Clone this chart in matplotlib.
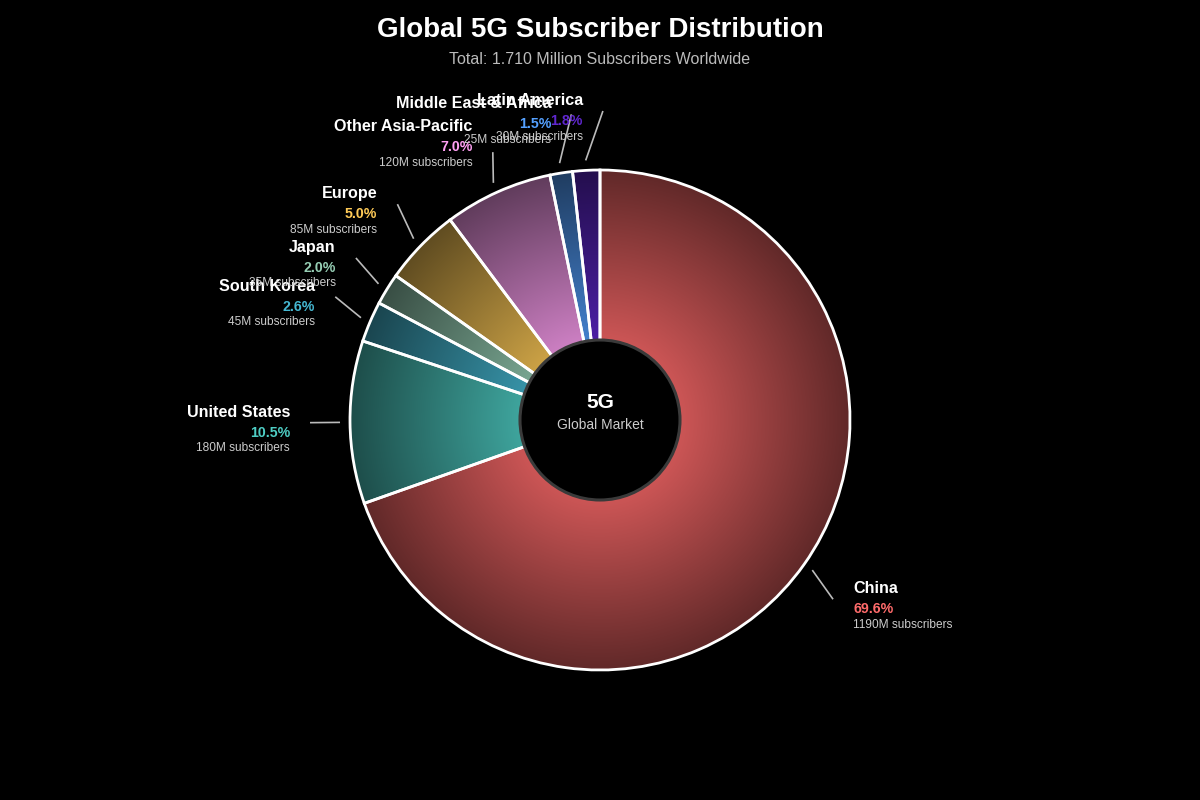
import matplotlib
matplotlib.use("Agg")
import matplotlib.pyplot as plt
import numpy as np
from matplotlib.colors import to_rgb
from matplotlib.patches import Circle

regions = ["China", "United States", "South Korea", "Japan", "Europe",
           "Other Asia-Pacific", "Middle East & Africa", "Latin America"]
subscribers = [1190, 180, 45, 35, 85, 120, 25, 30]
colors = ["#FF6B6B", "#4ECDC4", "#45B7D1", "#96CEB4", "#FECA57",
          "#FF9FF3", "#54A0FF", "#5F27CD"]
title = "Global 5G Subscriber Distribution"
subtitle = "Total: 1.710 Million Subscribers Worldwide"

# label layout tuning (leader-line end: clockwise nudge in degrees, radius factor,
# extra vertical text shift in px)
label_nudge = [2.3, 0.0, 1.8, 2.0, 2.6, 2.4, 3.6, 3.7]
label_rad = [1.176, 1.16, 1.168, 1.172, 1.184, 1.154, 1.228, 1.236]
text_shift = [0, 0, 0, 0, 0, 15, 0, 0]

plt.rcParams['font.family'] = ['Liberation Sans', 'DejaVu Sans']

fig = plt.figure(figsize=(12, 8), dpi=100, facecolor="black")
ax = fig.add_axes([0, 0, 1, 1])
ax.set_facecolor("black")
ax.axis("off")

cx, cy, R = 600, 380, 250
total = sum(subscribers)

wedges, _ = ax.pie(subscribers, center=(cx, cy), radius=R, startangle=90,
                   counterclock=False, colors=colors,
                   wedgeprops=dict(edgecolor="white", linewidth=2.0))

# radial gradient fill clipped to each wedge
n = 500
xs = np.linspace(cx - R, cx + R, n)
ys = np.linspace(cy - R, cy + R, n)
X, Y = np.meshgrid(xs, ys)
rr = np.sqrt((X - cx) ** 2 + (Y - cy) ** 2) / R
fac = np.clip(1.0 - 0.62 * rr, 0, 1)
for w, c in zip(wedges, colors):
    rgb = np.array(to_rgb(c))
    img = fac[..., None] * rgb[None, None, :]
    im = ax.imshow(img, extent=(cx - R, cx + R, cy - R, cy + R), origin="lower",
                   zorder=1.5, interpolation="bilinear")
    im.set_clip_path(w)
    w.set_facecolor("none")
    w.set_zorder(2)

ax.set_xlim(0, 1200)
ax.set_ylim(0, 800)
ax.set_aspect("equal")

# center hole
ax.add_patch(Circle((cx, cy), 80, facecolor="black", edgecolor="#3a3a3a",
                    linewidth=2.2, zorder=3))
ax.text(cx, cy + 17, "5G", color="white", fontsize=15, fontweight="bold",
        ha="center", va="center", zorder=4)
ax.text(cx, cy - 5, "Global Market", color="#cccccc", fontsize=10,
        ha="center", va="center", zorder=4)

# labels
for i, (w, name, val, c) in enumerate(zip(wedges, regions, subscribers, colors)):
    mid = (w.theta1 + w.theta2) / 2
    a0 = np.deg2rad(mid)
    a1 = np.deg2rad(mid - label_nudge[i])
    x0, y0 = cx + 1.04 * R * np.cos(a0), cy + 1.04 * R * np.sin(a0)
    x1, y1 = cx + label_rad[i] * R * np.cos(a1), cy + label_rad[i] * R * np.sin(a1)
    ax.plot([x0, x1], [y0, y1], color="#bbbbbb", linewidth=1.2, zorder=2,
            solid_capstyle="butt")
    right = np.cos(a0) > 0.05
    ha = "left" if right else "right"
    lx = x1 + (20 if right else -20)
    ly = y1 + text_shift[i]
    ax.text(lx, ly + 10.5, name, color="white", fontsize=11.6, fontweight="bold",
            ha=ha, va="center", zorder=5)
    ax.text(lx, ly - 10, f"{val / total * 100:.1f}%", color=c, fontsize=10.2,
            fontweight="bold", ha=ha, va="center", zorder=5)
    ax.text(lx, ly - 25.5, f"{val}M subscribers", color="#cccccc", fontsize=8.6,
            ha=ha, va="center", zorder=5)

ax.text(600, 770, title, color="white", fontsize=20, fontweight="bold",
        ha="center", va="center")
ax.text(600, 741, subtitle, color="#bbbbbb", fontsize=11.5, ha="center",
        va="center")

fig.savefig("out.png", dpi=100, facecolor="black")
